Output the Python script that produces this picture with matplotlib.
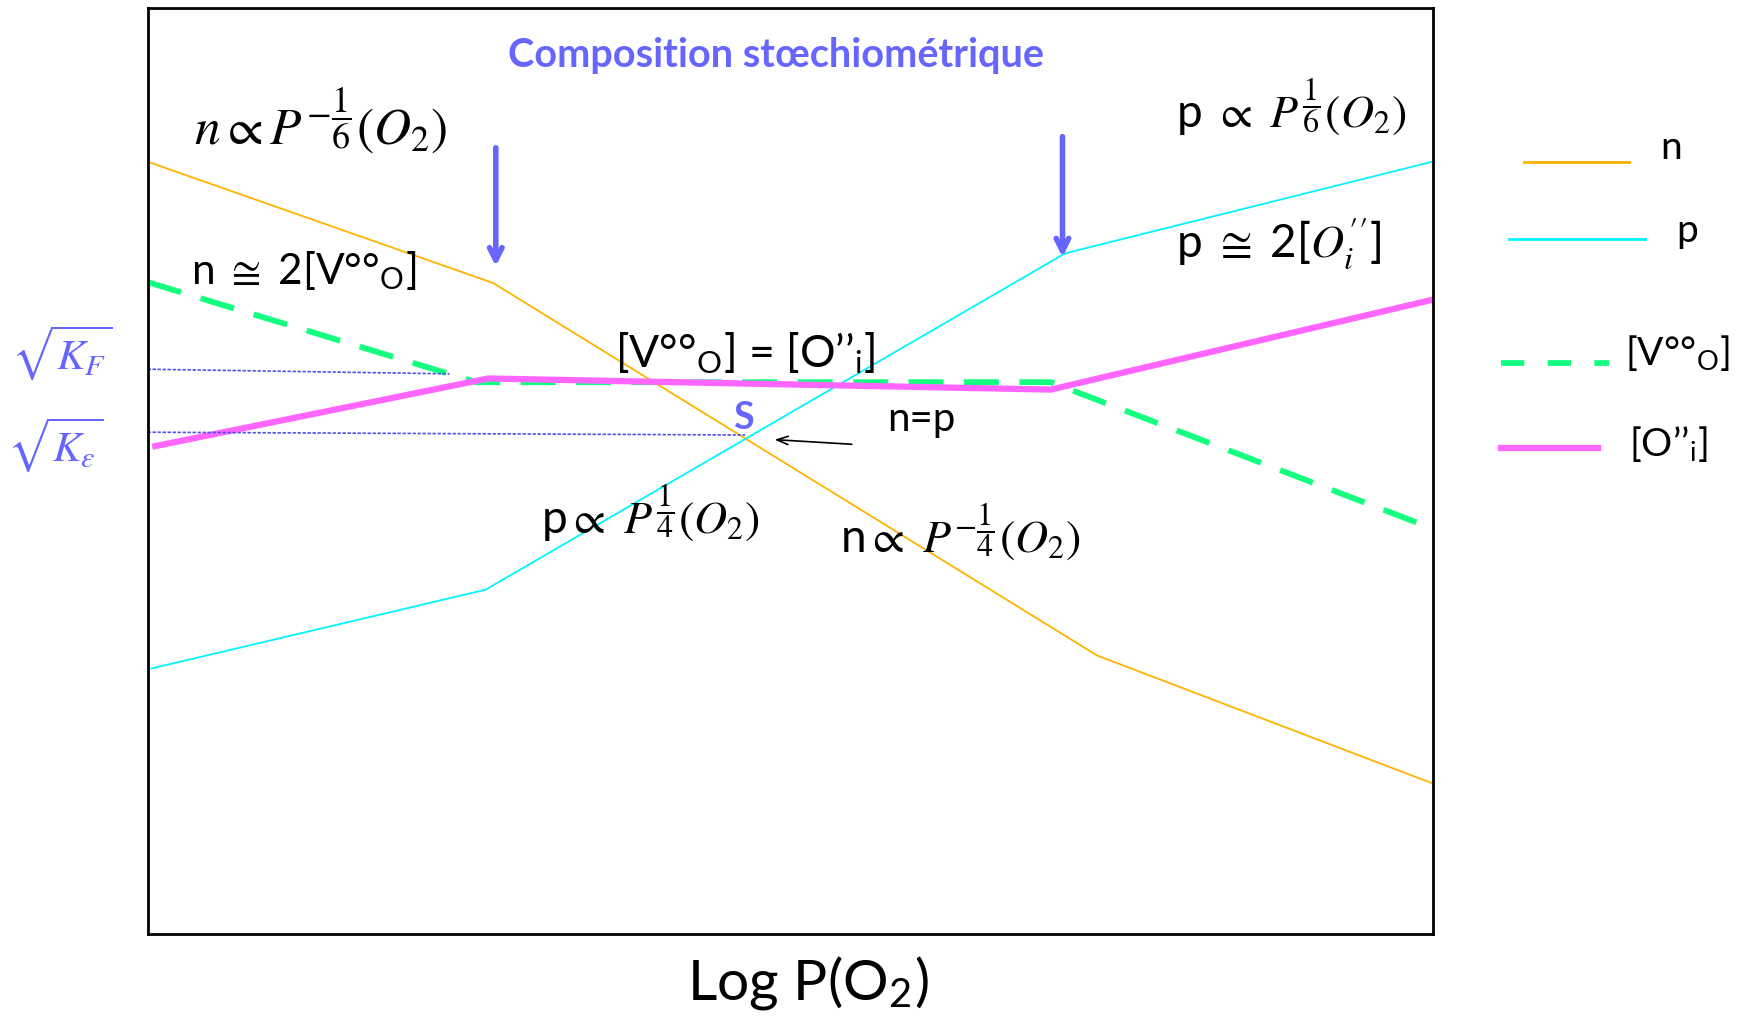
import matplotlib
matplotlib.use("Agg")
import matplotlib.pyplot as plt

# schematic Brouwer diagram, arbitrary units (log P(O2) on x, log concentration on y)
x_n = [0.0, 2.69, 7.39, 10.0]
y_n = [8.34, 7.03, 3.01, 1.63]
x_p = [0.03, 2.63, 7.14, 10.0]
y_p = [2.87, 3.72, 7.35, 8.34]
x_vo = [0.0, 2.56, 7.03, 10.0]
y_vo = [7.04, 5.96, 5.96, 4.38]
x_oi = [0.06, 2.65, 7.03, 10.0]
y_oi = [5.27, 6.00, 5.88, 6.85]

# reference levels sqrt(K_F) and sqrt(K_eps)
kf_x = [0.0, 2.35]
kf_y = [6.10, 6.05]
ke_x = [0.0, 4.65]
ke_y = [5.42, 5.39]

# stoichiometric composition limits (blue arrows)
arrow_x = [2.71, 7.12]
arrow_top = [8.49, 8.61]
arrow_bot = [7.21, 7.31]

legend_labels = ["n", "p", "[V°°$_\\mathsf{O}$]", "[O’’$_\\mathsf{i}$]"]

plt.rcParams["mathtext.fontset"] = "custom"
plt.rcParams["mathtext.rm"] = "STIXGeneral"
plt.rcParams["mathtext.it"] = "STIXGeneral:italic"
plt.rcParams["mathtext.bf"] = "STIXGeneral:bold"
plt.rcParams["mathtext.sf"] = "Lato"
plt.rcParams["mathtext.fallback"] = "stix"
plt.rcParams["font.family"] = ["Lato", "DejaVu Sans"]

c_n = "#FFB300"
c_p = "#00F5FF"
c_vo = "#14FF7F"
c_oi = "#FF66FF"
c_blue = "#6666FF"

fig = plt.figure(figsize=(17.4, 10.19), dpi=100)
ax = fig.add_axes([0.0848, 0.0830, 0.7385, 0.9093])
ax.set_xlim(0, 10)
ax.set_ylim(0, 10)
ax.set_xticks([])
ax.set_yticks([])
for s in ax.spines.values():
    s.set_linewidth(2)

ax.plot(x_n, y_n, color=c_n, lw=1.3)
ax.plot(x_p, y_p, color=c_p, lw=1.3)
ax.plot(x_vo, y_vo, color=c_vo, lw=4.2, dashes=(6, 3.5))
ax.plot(x_oi, y_oi, color=c_oi, lw=4.5)
ax.plot(kf_x, kf_y, color="#4F4FE8", lw=1.2, ls=(0, (2, 1)))
ax.plot(ke_x, ke_y, color="#4F4FE8", lw=1.2, ls=(0, (2, 1)))

for xa, yt, yb in zip(arrow_x, arrow_top, arrow_bot):
    ax.annotate("", xy=(xa, yb), xytext=(xa, yt),
                arrowprops=dict(arrowstyle="->,head_length=0.9,head_width=0.45",
                                color=c_blue, lw=4, shrinkA=0, shrinkB=0))

ax.annotate("", xy=(4.88, 5.34), xytext=(5.48, 5.29),
            arrowprops=dict(arrowstyle="->,head_length=0.8,head_width=0.3",
                            color="black", lw=1.2, shrinkA=0, shrinkB=0))

ax.text(4.89, 9.49, "Composition stœchiométrique", color=c_blue, fontsize=28.5,
        fontweight="bold", ha="center", va="center")
ax.text(0.36, 8.79, r"$n \propto P^{-\dfrac{1}{6}}(O_2)$", fontsize=37, ha="left", va="center")
ax.text(10 - 0.2, 8.93, r"p $\propto$ $P^{\dfrac{1}{6}}(O_2)$", fontsize=33, ha="right", va="center")
ax.text(0.34, 7.17, "n $\\cong$ 2[V°°$_\\mathsf{O}$]", fontsize=30.5, ha="left", va="center")
ax.text(8.0, 7.45, r"p $\cong$ 2[$O_i^{\prime\prime}$]", fontsize=33, ha="left", va="center")
ax.text(3.64, 6.28, "[V°°$_\\mathsf{O}$] = [O’’$_\\mathsf{i}$]", fontsize=32, ha="left", va="center")
ax.text(4.64, 5.57, "S", color=c_blue, fontsize=27, fontweight="bold", ha="center", va="center")
ax.text(6.02, 5.56, "n=p", fontsize=29, ha="center", va="center")
ax.text(3.06, 4.55, r"p$\propto$ $P^{\dfrac{1}{4}}(O_2)$", fontsize=33, ha="left", va="center")
ax.text(5.39, 4.34, r"n$\propto$ $P^{-\dfrac{1}{4}}(O_2)$", fontsize=33, ha="left", va="center")

ax.text(-0.67, 6.28, r"$\sqrt{K_F}$", color=c_blue, fontsize=31, ha="center", va="center")
ax.text(-0.72, 5.29, r"$\sqrt{K_\epsilon}$", color=c_blue, fontsize=31, ha="center", va="center")

ax.set_xlabel("Log P(O$_\\mathsf{2}$)", fontsize=41)
ax.xaxis.set_label_coords(0.514, -0.052)
ax.xaxis.label.set_va("center")

# hand-placed key on the right
key_x0 = [1.0708, 1.0596, 1.0535, 1.0535]
key_x1 = [1.1528, 1.1650, 1.1373, 1.1287]
key_y = [0.8335, 0.7510, 0.6170, 0.5246]
key_tx = [1.177, 1.190, 1.150, 1.153]
key_ty = [0.849, 0.759, 0.6275, 0.529]
styles = [dict(color=c_n, lw=2), dict(color=c_p, lw=2),
          dict(color=c_vo, lw=4.2, dashes=(4, 4)), dict(color=c_oi, lw=4.5)]
for i, lab in enumerate(legend_labels):
    ax.plot([key_x0[i], key_x1[i]], [key_y[i], key_y[i]], transform=ax.transAxes,
            clip_on=False, **styles[i])
    ax.text(key_tx[i], key_ty[i], lab, transform=ax.transAxes, fontsize=28,
            ha="left", va="center")

fig.savefig("out.png", dpi=100)
